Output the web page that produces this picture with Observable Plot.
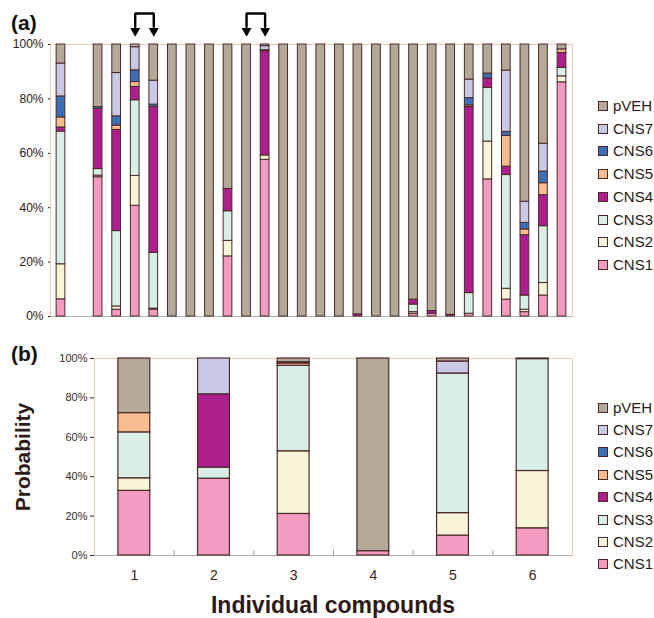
<!DOCTYPE html>
<html>
<head>
<meta charset="utf-8">
<script src="https://cdn.jsdelivr.net/npm/d3@7"></script>
<script src="https://cdn.jsdelivr.net/npm/@observablehq/plot@0.6"></script>
<style>
  html, body { margin: 0; padding: 0; background: #fff; }
  #root { position: relative; width: 654px; height: 618px; overflow: hidden; font-family: "Liberation Sans", Arial, sans-serif; color: #3a2320; }
  .abs { position: absolute; }
  .panel-label { font-size: 21px; font-weight: bold; line-height: 21px; color: #111; }
  .axis-title { font-weight: bold; line-height: 22px; color: #2e1a17; white-space: nowrap; }
  .legend-row { position: absolute; left: 598px; height: 14px; display: flex; align-items: center; }
  .legend-row .sw { width: 8px; height: 8px; border: 1px solid #4a2a28; box-sizing: content-box; margin-right: 5px; }
  .legend-row .tx { font-size: 15px; line-height: 14px; color: #2a1a18; white-space: nowrap; }
</style>
</head>
<body>
<div id="root"></div>
<script>
// ---- Series (stack order bottom -> top) and colours ----
const seriesNames = ["CNS1", "CNS2", "CNS3", "CNS4", "CNS5", "CNS6", "CNS7", "pVEH"];
const seriesColors = ["#f49bc1", "#f8f4d8", "#d9eee7", "#ad1f8d", "#f8bd8f", "#3d6fb6", "#c9c9e5", "#b4a999"];
const legendOrder = ["pVEH", "CNS7", "CNS6", "CNS5", "CNS4", "CNS3", "CNS2", "CNS1"];

// ---- Panel (a): 28 bar positions (position 2 is empty) ----
const catsA = ["1","2","3","4","5","6","7","8","9","10","11","12","13","14","15","16","17","18","19","20","21","22","23","24","25","26","27","28"];
const a_CNS1 = [6.3, 0, 51.2, 2.5, 40.7, 2.5, 0, 0, 0, 22.1, 0, 57.6, 0, 0, 0, 0, 0, 0, 0, 1.0, 1.0, 0, 1.0, 50.4, 6.2, 1.6, 7.7, 86.1];
const a_CNS2 = [12.9, 0, 0.6, 1.2, 11.0, 0.4, 0, 0, 0, 5.7, 0, 1.6, 0, 0, 0, 0, 0, 0, 0, 0.6, 0, 0, 0, 13.9, 4.0, 0.9, 4.6, 2.2];
const a_CNS3 = [48.8, 0, 2.4, 27.7, 27.8, 20.5, 0, 0, 0, 10.9, 0, 0, 0, 0, 0, 0, 0, 0, 0, 2.8, 0, 0, 7.6, 19.7, 41.8, 5.2, 20.9, 3.1];
const a_CNS4 = [1.5, 0, 22.1, 37.2, 4.9, 53.6, 0, 0, 0, 8.2, 0, 38.3, 0, 0, 0, 0, 0.8, 0, 0, 1.8, 1.0, 0.6, 68.4, 3.5, 3.1, 22.2, 11.4, 5.5];
const a_CNS5 = [3.7, 0, 0, 1.6, 1.8, 0, 0, 0, 0, 0, 0, 0, 0, 0, 0, 0, 0, 0, 0, 0, 0, 0, 0.6, 0, 11.3, 2.1, 4.4, 1.3];
const a_CNS6 = [7.7, 0, 0.7, 3.4, 4.3, 0.9, 0, 0, 0, 0, 0, 0.4, 0, 0, 0, 0, 0, 0, 0, 0, 0, 0, 2.7, 1.8, 1.5, 2.4, 4.3, 0];
const a_CNS7 = [12.1, 0, 0, 15.9, 8.5, 8.8, 0, 0, 0, 0, 0, 1.5, 0, 0, 0, 0, 0, 0, 0, 0, 0, 0, 6.8, 0, 22.5, 7.8, 10.2, 0];
const a_pVEH = [7.0, 0, 23.0, 10.5, 1.0, 13.3, 100, 100, 100, 53.1, 100, 0.6, 100, 100, 100, 100, 99.2, 100, 100, 93.8, 98.0, 99.4, 12.9, 10.7, 9.6, 57.8, 36.5, 1.8];

// Arrow brackets above panel (a): from one bar to the next
const arrowFrom = ["5", "11"];
const arrowTo   = ["6", "12"];

// ---- Panel (b): 6 individual compounds ----
const catsB = ["1", "2", "3", "4", "5", "6"];
const b_CNS1 = [32.8, 39.0, 21.1, 2.2, 10.1, 13.8];
const b_CNS2 = [6.4, 0, 31.8, 0, 11.4, 29.1];
const b_CNS3 = [23.3, 5.6, 43.4, 0, 70.9, 56.8];
const b_CNS4 = [0, 37.2, 0, 0, 0, 0];
const b_CNS5 = [9.8, 0, 1.2, 0, 0, 0];
const b_CNS6 = [0, 0, 0, 0, 0, 0];
const b_CNS7 = [0, 18.2, 0.6, 0, 6.1, 0];
const b_pVEH = [27.7, 0, 1.9, 97.8, 1.5, 0.3];

const yTicks = [0, 20, 40, 60, 80, 100];

// ---- Build long tables ----
function toLong(cats, arrays) {
  const rows = [];
  cats.forEach((c, i) => {
    seriesNames.forEach((s, j) => rows.push({cat: c, series: s, value: arrays[j][i]}));
  });
  return rows;
}
const longA = toLong(catsA, [a_CNS1, a_CNS2, a_CNS3, a_CNS4, a_CNS5, a_CNS6, a_CNS7, a_pVEH]);
const longB = toLong(catsB, [b_CNS1, b_CNS2, b_CNS3, b_CNS4, b_CNS5, b_CNS6, b_CNS7, b_pVEH]);

const barStroke = "#4a2a28";
const root = document.getElementById("root");

// ---- Panel (a) ----
const arrowTop = 111.4, arrowNeck = 106.5, arrowHead = 105.0;
const bracketPts = [];
const headPts = [];
arrowFrom.forEach((f, i) => {
  const t = arrowTo[i];
  bracketPts.push({id: i, cat: f, y: arrowNeck}, {id: i, cat: f, y: arrowTop}, {id: i, cat: t, y: arrowTop}, {id: i, cat: t, y: arrowNeck});
  headPts.push({cat: f, y: arrowHead}, {cat: t, y: arrowHead});
});

const plotA = Plot.plot({
  width: 580,
  height: 330,
  marginLeft: 50,
  marginRight: 8,
  marginTop: 44,
  marginBottom: 14,
  style: {fontFamily: "'Liberation Sans', Arial, sans-serif", fontSize: "12px", color: "#2a1512", background: "transparent", overflow: "visible"},
  x: {domain: catsA, paddingInner: 0.53, paddingOuter: 0.33, round: false, axis: null},
  y: {domain: [0, 100], ticks: yTicks, tickFormat: d => d + "%", tickSize: 2, tickPadding: 5, label: null},
  color: {domain: seriesNames, range: seriesColors},
  marks: [
    Plot.frame({stroke: "#efcbb5", strokeWidth: 1}),
    Plot.ruleY([0], {stroke: "#a6b5aa", strokeWidth: 1.2}),
    Plot.barY(longA, Plot.stackY({order: seriesNames}, {x: "cat", y: "value", fill: "series", stroke: barStroke, strokeWidth: 1})),
    Plot.line(bracketPts, {x: "cat", y: "y", z: "id", stroke: "#000", strokeWidth: 2.4, strokeLinejoin: "miter"}),
    Plot.dot(headPts, {x: "cat", y: "y", symbol: "triangle", rotate: 180, r: 3.7, fill: "#000", stroke: null})
  ]
});
plotA.style.position = "absolute";
plotA.style.left = "0px";
plotA.style.top = "0px";
root.appendChild(plotA);

// ---- Panel (b) ----
const bLeft = 94, bRight = 572, bWidth = 585;
const bStep = (bRight - bLeft) / (catsB.length - 0.6 + 2 * 0.3);
const plotB = Plot.plot({
  width: bWidth,
  height: 262,
  marginLeft: bLeft,
  marginRight: bWidth - bRight,
  marginTop: 28,
  marginBottom: 37,
  style: {fontFamily: "'Liberation Sans', Arial, sans-serif", fontSize: "11px", color: "#3e2a26", background: "transparent", overflow: "visible"},
  x: {domain: catsB, paddingInner: 0.6, paddingOuter: 0.3, round: false, label: null, tickSize: 0, tickPadding: 15},
  y: {domain: [0, 100], ticks: yTicks, tickFormat: d => d + "%", tickSize: 4, tickPadding: 3, label: null},
  color: {domain: seriesNames, range: seriesColors},
  marks: [
    Plot.frame({stroke: "#efcbb5", strokeWidth: 1}),
    Plot.ruleY([0], {stroke: "#b3a7a0", strokeWidth: 1.2}),
    Plot.ruleX(catsB.slice(0, -1), {x: d => d, y1: 0, y2: 2.6, dx: bStep / 2, stroke: "#a59a94", strokeWidth: 1}),
    Plot.axisX({tickSize: 0, tickPadding: 15, fontSize: 14, fill: "#3a2320"}),
    Plot.barY(longB, Plot.stackY({order: seriesNames}, {x: "cat", y: "value", fill: "series", stroke: barStroke, strokeWidth: 1.2}))
  ]
});
plotB.style.position = "absolute";
plotB.style.left = "0px";
plotB.style.top = "330px";
root.appendChild(plotB);

// ---- Text labels ----
function addDiv(cls, text, css) {
  const d = document.createElement("div");
  d.className = "abs " + cls;
  d.textContent = text;
  Object.assign(d.style, css);
  root.appendChild(d);
  return d;
}
addDiv("panel-label", "(a)", {left: "11px", top: "12px"});
addDiv("panel-label", "(b)", {left: "11px", top: "343px"});
addDiv("axis-title", "Probability", {fontSize: "21px", left: "23px", top: "457px", transform: "translate(-50%, -50%) rotate(-90deg)"});
addDiv("axis-title", "Individual compounds", {fontSize: "23px", left: bLeft + "px", width: (bRight - bLeft) + "px", textAlign: "center", top: "594px"});

// ---- Legends ----
function addLegend(centerY0, spacing) {
  legendOrder.forEach((s, i) => {
    const row = document.createElement("div");
    row.className = "legend-row";
    row.style.top = (centerY0 + i * spacing - 7) + "px";
    const sw = document.createElement("div");
    sw.className = "sw";
    sw.style.background = seriesColors[seriesNames.indexOf(s)];
    const tx = document.createElement("div");
    tx.className = "tx";
    tx.textContent = s;
    row.appendChild(sw);
    row.appendChild(tx);
    root.appendChild(row);
  });
}
addLegend(106, 22.7);
addLegend(407.5, 22.4);
</script>
</body>
</html>
